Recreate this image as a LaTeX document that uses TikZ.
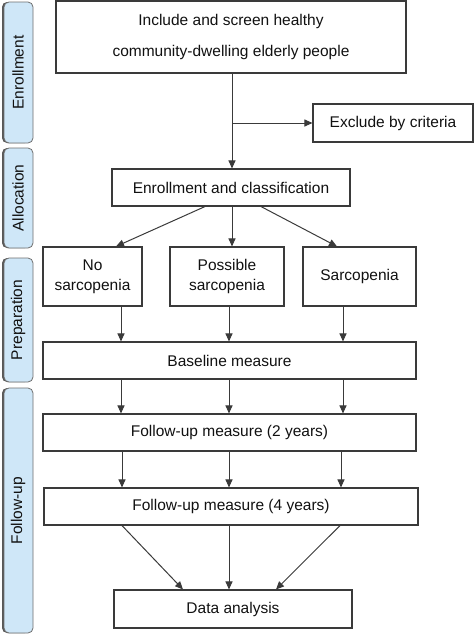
\documentclass[tikz,border=0pt]{standalone}
\usepackage{fontspec}
\setmainfont{Liberation Sans}
\usetikzlibrary{arrows.meta,calc}
\definecolor{panelblue}{HTML}{CFE7F8}
\definecolor{panelline}{HTML}{6E6E6E}
\definecolor{boxline}{HTML}{3A3A3A}
\definecolor{txt}{HTML}{111111}
\begin{document}
\begin{tikzpicture}[x=1pt,y=-1pt,
  every node/.style={text=txt,font=\fontsize{15.5}{20}\selectfont},
  flowbox/.style={draw=boxline,line width=1.1pt,fill=white,inner sep=0pt,align=center},
  panel/.style={draw=panelline,line width=0.8pt,fill=panelblue,rounded corners=5pt},
  panelshadow/.style={fill=panelline!80!black,rounded corners=5pt},
  arr/.style={draw=boxline,line width=1pt,-{Triangle[length=8pt,width=7pt]}}
]
\useasboundingbox (0,0) rectangle (474,635);
% side panels
\foreach \ya/\yb/\lab [count=\i] in {2/143/Enrollment,148/248/Allocation,258/382/Preparation,388/633/Follow-up}{
  \fill[panelshadow] (2,\ya) rectangle (30,\yb);
  \draw[panel] (4,\ya) rectangle (33,\yb);
  \node[rotate=90] (lab\i) at (18,{(\ya+\yb)/2}) {\lab};
}
% boxes
\node[flowbox,minimum width=350pt,minimum height=72pt,font=\fontsize{15.5}{31}\selectfont] (top) at (231,37) {Include and screen healthy\\community-dwelling elderly people};
\node[flowbox,minimum width=160pt,minimum height=38pt] (excl) at (393,123) {Exclude by criteria};
\node[flowbox,minimum width=238pt,minimum height=37pt] (enroll) at (231,187.5) {Enrollment and classification};
\node[flowbox,minimum width=99pt,minimum height=59pt] (no) at (92.5,276.5) {No\\sarcopenia};
\node[flowbox,minimum width=114pt,minimum height=59pt] (poss) at (227,276.5) {Possible\\sarcopenia};
\node[flowbox,minimum width=113pt,minimum height=59pt] (sarc) at (359.5,276.5) {Sarcopenia};
\node[flowbox,minimum width=373pt,minimum height=37pt] (base) at (229.5,360.5) {Baseline measure};
\node[flowbox,minimum width=373pt,minimum height=37pt] (fu2) at (229.5,432.5) {Follow-up measure (2 years)};
\node[flowbox,minimum width=374pt,minimum height=37pt] (fu4) at (231,506.5) {Follow-up measure (4 years)};
\node[flowbox,minimum width=238pt,minimum height=38pt] (data) at (233,609) {Data analysis};
% connectors
\coordinate (ts) at ($(top.south)+(1,0)$);
\coordinate (j) at (ts |- excl.west);
\coordinate (em) at ($(enroll.south)+(1,0)$);
\draw[arr] (ts) -- (ts |- enroll.north);
\draw[arr] (j) -- (excl.west);
\draw[arr] ($(enroll.south)+(-26,0)$) -- ($(no.north)+(23.5,0)$);
\draw[arr] (em) -- (em |- poss.north);
\draw[arr] ($(enroll.south)+(30,0)$) -- ($(sarc.north)+(-22.5,0)$);
\foreach \xx in {121,229,343}{
  \draw[arr] (\xx,0 |- no.south) -- (\xx,0 |- base.north);
  \draw[arr] (\xx,0 |- base.south) -- (\xx,0 |- fu2.north);
}
\foreach \xx in {122,229,341}{
  \draw[arr] (\xx,0 |- fu2.south) -- (\xx,0 |- fu4.north);
}
\draw[arr] (122,0 |- fu4.south) -- ($(data.north)+(-50,0)$);
\draw[arr] (229,0 |- fu4.south) -- (229,0 |- data.north);
\draw[arr] (340,0 |- fu4.south) -- ($(data.north)+(43,0)$);
\end{tikzpicture}
\end{document}
